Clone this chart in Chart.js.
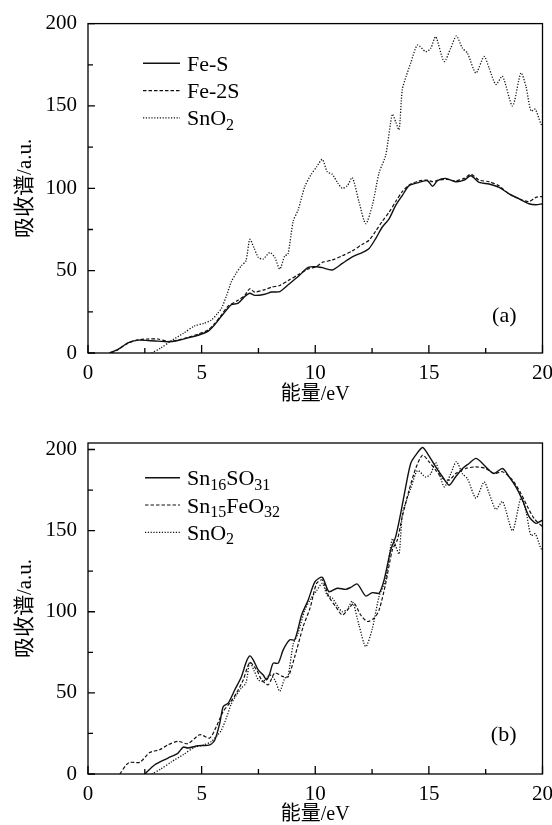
<!DOCTYPE html>
<html>
<head>
<meta charset="utf-8">
<script src="https://cdn.jsdelivr.net/npm/chart.js@4.4.0/dist/chart.umd.min.js"></script>
<style>
  html, body { margin: 0; padding: 0; background: #fff; }
  canvas { display: block; }
</style>
</head>
<body>
<canvas id="chartA" width="552" height="408"></canvas>
<canvas id="chartB" width="552" height="417"></canvas>
<script>
// energy (eV) / absorption (a.u.)
const sno2X = [2.8, 3.2, 3.67, 4.2, 4.7, 5.1, 5.43, 5.7, 5.87, 6.1, 6.3, 6.5, 6.75, 6.95, 7.12, 7.3, 7.5, 7.7, 8.0, 8.22, 8.44, 8.66, 8.8, 9.03, 9.25, 9.54, 9.8, 10.06, 10.31, 10.53, 10.75, 11.0, 11.19, 11.41, 11.63, 11.93, 12.22, 12.51, 12.81, 13.1, 13.39, 13.55, 13.69, 13.83, 14.0, 14.2, 14.5, 14.86, 15.08, 15.3, 15.67, 15.96, 16.21, 16.48, 16.7, 17.07, 17.43, 17.65, 17.95, 18.24, 18.68, 19.05, 19.27, 19.49, 19.68, 19.93, 20];
const sno2Y = [0, 3, 7.5, 12, 16.5, 18, 20, 24, 27, 35, 43, 48, 53, 56, 69, 64, 58, 57, 61, 58, 51, 59, 60, 80, 87, 101, 108, 113, 117.5, 110, 108.5, 103, 100, 101.5, 106.5, 91.5, 78.5, 89.5, 109.5, 120, 145, 140, 135.5, 160, 168, 176, 187, 183, 185, 192, 177, 185, 192.5, 185, 182, 170, 180, 173, 163, 168, 150, 170, 162, 147, 148, 139, 138];

const feSX = [0.95, 1.32, 1.76, 2.2, 2.64, 3.08, 3.52, 3.96, 4.4, 4.85, 5.29, 5.58, 5.87, 6.17, 6.31, 6.61, 6.9, 7.12, 7.34, 7.78, 8.08, 8.44, 8.81, 9.25, 9.69, 10.06, 10.31, 10.75, 11.19, 11.63, 12.07, 12.37, 12.66, 12.95, 13.25, 13.54, 13.83, 14.13, 14.57, 14.94, 15.16, 15.38, 15.74, 16.18, 16.55, 16.85, 17.21, 17.65, 18.09, 18.53, 18.97, 19.41, 19.71, 20];
const feSY = [0, 2.2, 6.2, 7.8, 7.6, 7.2, 6.8, 7.6, 9.2, 10.8, 13.3, 17.3, 22.3, 27.3, 29.3, 30.3, 34.3, 36.3, 35, 35.7, 37, 37.3, 41.4, 46.4, 52, 52.4, 51.8, 50.4, 54.4, 58.4, 61, 63.5, 69.5, 76.5, 81.5, 89.6, 95.6, 101.6, 103.6, 104.6, 101.2, 104.6, 106, 104, 105, 107.6, 103.6, 102.6, 100.6, 96.6, 93.6, 90.6, 90, 90.6];

const fe2SX = [1.0, 1.32, 1.76, 2.2, 2.64, 3.08, 3.52, 3.96, 4.4, 4.85, 5.29, 5.58, 5.87, 6.17, 6.6, 6.9, 7.12, 7.34, 7.78, 8.08, 8.44, 8.81, 9.25, 9.69, 10.06, 10.31, 10.75, 11.19, 11.63, 12.07, 12.37, 12.66, 12.95, 13.25, 13.54, 13.83, 14.13, 14.57, 14.94, 15.16, 15.38, 15.74, 16.18, 16.55, 16.85, 17.21, 17.65, 18.09, 18.53, 18.97, 19.41, 19.71, 20];
const fe2SY = [0, 2, 6, 8, 8.5, 8.5, 7, 7.8, 9.5, 11.5, 14, 18, 23, 28.5, 32, 35, 39, 37, 38.5, 40, 41, 44, 47.5, 51, 52.5, 55, 56.5, 59, 62, 66, 68.5, 74, 80, 85.5, 92, 98, 102, 104.5, 105, 104, 104.8, 105.5, 104.5, 106, 108.5, 105, 104, 101.5, 96.5, 93.5, 92, 94.5, 95];

const sn16X = [2.5, 2.94, 3.52, 3.96, 4.19, 4.4, 4.85, 5.36, 5.58, 5.8, 5.95, 6.17, 6.46, 6.75, 6.97, 7.12, 7.27, 7.49, 7.71, 7.86, 8.0, 8.15, 8.37, 8.59, 8.88, 9.1, 9.4, 9.69, 9.99, 10.31, 10.6, 10.97, 11.34, 11.56, 11.85, 12.22, 12.51, 12.81, 13.03, 13.32, 13.54, 13.76, 13.98, 14.2, 14.42, 14.72, 14.94, 15.3, 15.6, 15.89, 16.18, 16.48, 16.77, 17.07, 17.36, 17.65, 17.87, 18.24, 18.53, 18.83, 19.12, 19.41, 19.71, 20];
const sn16Y = [0, 5.7, 9.8, 12.9, 16.6, 16, 17.4, 18, 21, 31.4, 41.6, 43.7, 51.9, 60, 69.3, 72.8, 70.4, 64.2, 61, 58, 62, 68.3, 68.3, 76.5, 82.7, 82.7, 98, 107.3, 118.6, 121.2, 112.4, 114.5, 113.8, 115, 117.1, 109.7, 111.8, 111.4, 119.6, 138, 146.3, 160.6, 177, 191.4, 196.5, 201.2, 197.5, 189.3, 183.2, 178, 183.2, 188.3, 191.4, 194.5, 191.4, 187.3, 185.2, 188.3, 183.2, 177, 168.8, 158.6, 154.5, 156.5];

const sn15X = [1.4, 1.69, 1.84, 2.28, 2.72, 3.16, 3.52, 3.96, 4.4, 4.92, 5.36, 5.65, 5.95, 6.24, 6.53, 6.83, 7.12, 7.42, 7.64, 7.93, 8.22, 8.59, 8.81, 9.1, 9.47, 9.77, 10.06, 10.31, 10.6, 10.9, 11.19, 11.49, 11.71, 12.0, 12.29, 12.59, 12.81, 13.1, 13.39, 13.61, 13.83, 14.13, 14.42, 14.72, 15.01, 15.3, 15.6, 15.89, 16.18, 16.62, 17.07, 17.5, 17.87, 18.24, 18.68, 19.05, 19.34, 19.63, 20];
const sn15Y = [0, 5.7, 7.2, 7.2, 13.3, 15, 18, 20.1, 18.7, 24.2, 22.2, 29.3, 38.6, 43.7, 49.8, 58, 68.7, 64.2, 58, 55, 62.2, 60, 60, 72.4, 90.9, 102.2, 117.5, 119.6, 109.3, 103.2, 98, 102.2, 105.2, 98, 94, 96, 101.1, 117.5, 138, 144.2, 158.6, 175, 188.3, 196.5, 192.4, 187.3, 182.2, 181.1, 185.2, 188.3, 189.3, 188.3, 185.2, 186.3, 181.1, 172.9, 164.7, 157.5, 152.4];

const xTicks = [0, 2.5, 5, 7.5, 10, 12.5, 15, 17.5, 20];
const yTicks = [0, 25, 50, 75, 100, 125, 150, 175, 200];

const SERIF = '"Liberation Serif", "Noto Sans CJK SC", serif';

function pts(xs, ys) {
  return xs.map((x, i) => ({ x: x, y: ys[i] }));
}

const lineStyles = {
  solid: { borderDash: [], borderWidth: 1.4 },
  dashed: { borderDash: [3.5, 2], borderWidth: 1.2 },
  dotted: { borderDash: [1.2, 1.6], borderWidth: 1.3 }
};

function series(label, xs, ys, style) {
  return Object.assign({
    label: label,
    data: pts(xs, ys),
    borderColor: '#111',
    pointRadius: 0,
    tension: 0.25,
    fill: false
  }, lineStyles[style]);
}

// draws "Sn_16SO_31" with real subscripts
function drawRich(ctx, text, x, y, size) {
  text.split(/(_\d+)/).forEach(p => {
    if (!p) return;
    if (p[0] === '_') {
      ctx.font = Math.round(size * 0.72) + 'px ' + SERIF;
      ctx.fillText(p.slice(1), x, y + size * 0.2);
      x += ctx.measureText(p.slice(1)).width;
    } else {
      ctx.font = size + 'px ' + SERIF;
      ctx.fillText(p, x, y);
      x += ctx.measureText(p).width;
    }
  });
}

// frame box, inward ticks, legend inside the plot, panel tag
const panelPlugin = {
  id: 'panel',
  afterDatasetsDraw(chart, args, opts) {
    const ctx = chart.ctx;
    const a = chart.chartArea;
    const xs = chart.scales.x, ys = chart.scales.y;
    ctx.save();
    ctx.strokeStyle = '#000';
    ctx.lineWidth = 1.3;
    ctx.setLineDash([]);
    ctx.strokeRect(a.left, a.top, a.right - a.left, a.bottom - a.top);

    ctx.beginPath();
    xTicks.forEach(v => {
      const px = xs.getPixelForValue(v);
      const len = v % 5 === 0 ? 8 : 5;
      ctx.moveTo(px, a.bottom);
      ctx.lineTo(px, a.bottom - len);
    });
    yTicks.forEach(v => {
      const py = ys.getPixelForValue(v);
      const len = v % 50 === 0 ? 7 : 5;
      ctx.moveTo(a.left, py);
      ctx.lineTo(a.left + len, py);
    });
    ctx.stroke();

    // legend
    ctx.fillStyle = '#000';
    ctx.textBaseline = 'alphabetic';
    ctx.textAlign = 'left';
    chart.data.datasets.forEach((ds, i) => {
      const y = opts.legendY + i * 27.3;
      ctx.beginPath();
      ctx.strokeStyle = '#111';
      ctx.lineWidth = ds.borderWidth;
      ctx.setLineDash(ds.borderDash);
      ctx.moveTo(opts.legendX, y);
      ctx.lineTo(180, y);
      ctx.stroke();
      drawRich(ctx, ds.label, 187, y + 7.5, 22);
    });

    ctx.setLineDash([]);
    ctx.font = '22px ' + SERIF;
    ctx.textAlign = 'right';
    ctx.fillText(opts.tag, a.right - 26, a.bottom - opts.tagUp);
    ctx.restore();
  }
};

function makeChart(id, datasets, yMax, top, xHeight, titlePad, panelOpts) {
  return new Chart(document.getElementById(id), {
    type: 'line',
    data: { datasets: datasets },
    plugins: [panelPlugin],
    options: {
      responsive: false,
      animation: false,
      devicePixelRatio: 1,
      layout: { padding: { top: top, right: 0, bottom: 0, left: 0 } },
      plugins: {
        legend: { display: false },
        tooltip: { enabled: false },
        panel: panelOpts
      },
      scales: {
        x: {
          type: 'linear',
          min: 0,
          max: 20,
          afterBuildTicks: s => { s.ticks = xTicks.map(v => ({ value: v })); },
          afterFit: s => {
            s.height = xHeight;
            s.paddingLeft = 0;
            s.paddingRight = 9.5;
          },
          grid: { display: false, drawTicks: false },
          border: { display: false },
          ticks: {
            autoSkip: false,
            maxRotation: 0,
            padding: 8,
            color: '#000',
            font: { family: SERIF, size: 21 },
            callback: v => (v % 5 === 0 ? v : '')
          },
          title: {
            display: true,
            text: '能量/eV',
            color: '#000',
            font: { family: SERIF, size: 20, lineHeight: 1 },
            padding: { top: 0, bottom: titlePad }
          }
        },
        y: {
          min: 0,
          max: yMax,
          afterBuildTicks: s => { s.ticks = yTicks.map(v => ({ value: v })); },
          afterFit: s => { s.width = 88; },
          grid: { display: false, drawTicks: false },
          border: { display: false },
          ticks: {
            padding: 11,
            color: '#000',
            font: { family: SERIF, size: 21 },
            callback: v => (v % 50 === 0 ? v : '')
          },
          title: {
            display: true,
            text: '吸收谱/a.u.',
            color: '#000',
            font: { family: SERIF, size: 21, lineHeight: 1.2 },
            padding: { top: 13, bottom: 0 }
          }
        }
      }
    }
  });
}

makeChart('chartA', [
  series('Fe-S', feSX, feSY, 'solid'),
  series('Fe-2S', fe2SX, fe2SY, 'dashed'),
  series('SnO_2', sno2X, sno2Y, 'dotted')
], 200, 21, 55, 3, { tag: '(a)', legendX: 143, legendY: 63.3, tagUp: 31 });

makeChart('chartB', [
  series('Sn_16SO_31', sn16X, sn16Y, 'solid'),
  series('Sn_15FeO_32', sn15X, sn15Y, 'dashed'),
  series('SnO_2', sno2X, sno2Y, 'dotted')
], 204, 35, 51, 0, { tag: '(b)', legendX: 145, legendY: 69.7, tagUp: 33 });
</script>
</body>
</html>
